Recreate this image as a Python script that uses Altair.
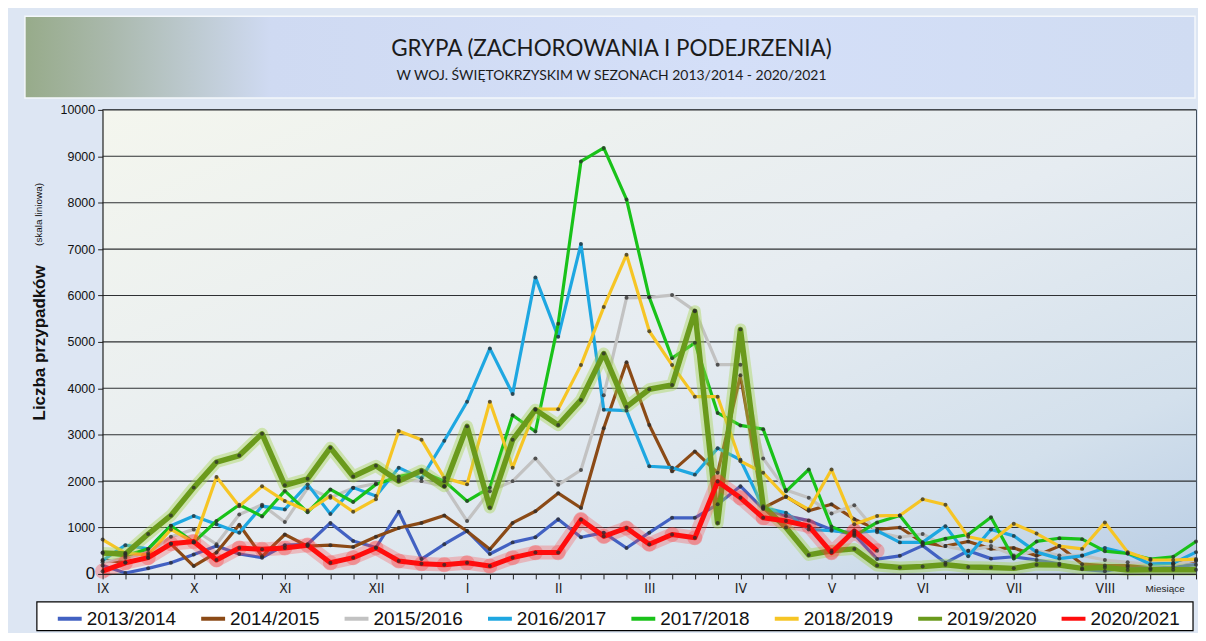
import altair as alt
import pandas as pd

seasons = ["2013/2014", "2014/2015", "2015/2016", "2016/2017",
           "2017/2018", "2018/2019", "2019/2020", "2020/2021"]
colors = ["#4261c2", "#8b4a16", "#c2c2c2", "#1ea7e1",
          "#19c219", "#f6c525", "#6a9a1c", "#ff0d0d"]
months = ["IX", "X", "XI", "XII", "I", "II", "III", "IV", "V", "VI", "VII", "VIII"]
y_ticks = list(range(0, 10001, 1000))

s2013 = [180, 20, 120, 240, 420, 600, 430, 350, 620, 640,
         1100, 710, 570, 1340, 320, 640, 930, 430, 680, 790,
         1180, 790, 890, 560, 890, 1210, 1210, 1500, 1890, 1400,
         1250, 1150, 950, 850, 320, 390, 610, 240, 500, 330,
         370, 300, 220, 100, 60, 150, 120, 150, 200]
s2014 = [300, 250, 350, 650, 170, 460, 1060, 380, 850, 600,
         620, 580, 800, 990, 1100, 1260, 920, 530, 1100, 1350,
         1740, 1420, 3140, 4560, 3210, 2210, 2640, 2180, 4280, 1420,
         1670, 1360, 1500, 1180, 960, 1000, 680, 600, 700, 540,
         560, 390, 600, 210, 180, 180, 200, 230, 280]
s2015 = [250, 350, 450, 800, 960, 640, 1280, 1490, 1120, 1850,
         1640, 1850, 1950, 2030, 2000, 1890, 1140, 1780, 2000, 2490,
         1920, 2240, 3850, 5950, 5960, 6010, 5670, 4510, 4510, 2490,
         1810, 1640, 1300, 1480, 900, 790, 860, 600, 500, 600,
         400, 500, 400, 400, 300, 250, 200, 200, 300]
s2016 = [290, 620, 540, 1040, 1250, 1070, 890, 1460, 1390, 1930,
         1290, 1860, 1680, 2290, 2060, 2870, 3710, 4860, 3880, 6390,
         5110, 7110, 3540, 3520, 2320, 2290, 2140, 2710, 2460, 1430,
         1320, 960, 930, 890, 930, 680, 680, 1030, 380, 960,
         820, 470, 330, 390, 560, 440, 210, 230, 470]
s2017 = [460, 390, 540, 1040, 680, 1140, 1490, 1240, 1790, 1330,
         1820, 1550, 1930, 2100, 2200, 2000, 1570, 1860, 3420, 3070,
         5390, 8890, 9180, 8070, 5960, 4650, 4980, 3470, 3200, 3120,
         1780, 2250, 1020, 820, 1110, 1260, 640, 760, 850, 1220,
         330, 700, 770, 750, 490, 440, 320, 370, 700]
s2018 = [740, 450, 410, 960, 680, 2090, 1460, 1890, 1570, 1360,
         1680, 1340, 1610, 3080, 2890, 2070, 1930, 3710, 2290, 3550,
         3550, 4500, 5750, 6880, 5230, 4500, 3820, 3820, 2430, 2180,
         1660, 1390, 2250, 1070, 1250, 1260, 1610, 1490, 800, 700,
         1080, 870, 600, 540, 1110, 470, 300, 300, 320]
s2019 = [450, 430, 860, 1260, 1860, 2410, 2550, 3020, 1910, 2050,
         2720, 2100, 2330, 2000, 2230, 1890, 3180, 1430, 2890, 3540,
         3210, 3750, 4750, 3600, 3980, 4070, 5660, 1100, 5270, 1460,
         1000, 410, 500, 540, 180, 140, 160, 200, 150, 140,
         120, 200, 190, 120, 140, 85, 90, 90, 90]
s2020 = [60, 240, 350, 650, 700, 300, 560, 530, 560, 620,
         240, 350, 560, 280, 220, 200, 240, 170, 350, 460,
         460, 1170, 810, 990, 640, 850, 780, 1990, 1640, 1210,
         1140, 1030, 460, 930, 500]

series = [s2013, s2014, s2015, s2016, s2017, s2018, s2019, s2020]
rows = []
for season, vals in zip(seasons, series):
    for i, v in enumerate(vals):
        rows.append({"season": season, "week": i, "cases": v})
df = pd.DataFrame(rows)

W, H = 1098, 466
FONT = "Liberation Sans, Arial, sans-serif"
NARROW = "Liberation Sans Narrow, Arial Narrow, DejaVu Sans Condensed, sans-serif"

month_js = "[" + ",".join("'" + m + "'" for m in months) + "]"
xaxis = alt.Axis(values=list(range(49)), tickSize=5, tickColor="#222",
                 domainColor="#222", grid=False, title=None, zindex=1,
                 labelExpr=f"datum.value % 4 === 0 && datum.value < 48 ? {month_js}[datum.value / 4] : ''",
                 labelFont=NARROW, labelFontSize=14, labelColor="#222",
                 labelPadding=3, labelOverlap=False, labelFlush=False)
yaxis = alt.Axis(values=y_ticks, tickSize=5, tickColor="#222", domainColor="#222",
                 grid=False, title=None, zindex=1, labelFont=FONT,
                 labelFontSize={"condition": {"test": "datum.value === 0", "value": 17}, "value": 12.5},
                 labelColor="#111", labelPadding=3, format="d")
xs = alt.Scale(domain=[0, 48], nice=False, zero=False)
ys = alt.Scale(domain=[0, 10000], nice=False)
color = alt.Color("season:N", scale=alt.Scale(domain=seasons, range=colors),
                  legend=alt.Legend(orient="none", legendX=-47, legendY=497,
                                    direction="horizontal", columns=8, title=None,
                                    symbolType="stroke", symbolStrokeWidth=4, symbolSize=576,
                                    labelFont=FONT, labelFontSize=19, labelColor="#111",
                                    columnPadding=17, padding=0, labelLimit=300, labelOffset=3))

one = pd.DataFrame({"a": [0]})

plot_bg = alt.Chart(one).mark_rect(
    fill=alt.Gradient(gradient="linear", x1=0, y1=0, x2=1, y2=1,
                      stops=[alt.GradientStop(color="#f4f6ee", offset=0),
                             alt.GradientStop(color="#e6ecf1", offset=0.5),
                             alt.GradientStop(color="#d3e0ec", offset=0.8),
                             alt.GradientStop(color="#b9cde4", offset=1)])
).encode(x=alt.value(0), x2=alt.value(W), y=alt.value(0), y2=alt.value(H))

banner = alt.Chart(one).mark_rect(
    fill=alt.Gradient(gradient="linear", x1=0, y1=0, x2=1, y2=0,
                      stops=[alt.GradientStop(color="#97ab8a", offset=0),
                             alt.GradientStop(color="#a9b8ab", offset=0.07),
                             alt.GradientStop(color="#cfdaf2", offset=0.21),
                             alt.GradientStop(color="#d4dff8", offset=0.6),
                             alt.GradientStop(color="#d0dcf2", offset=1)]),
    stroke="#f4f7fb", strokeWidth=1.5
).encode(x=alt.value(-78), x2=alt.value(1097), y=alt.value(-94), y2=alt.value(-12))

legend_box = alt.Chart(one).mark_rect(
    fill="white", stroke="black", strokeWidth=1.2
).encode(x=alt.value(-66), x2=alt.value(1095), y=alt.value(494), y2=alt.value(523))

grid = alt.Chart(pd.DataFrame({"cases": y_ticks})).mark_rule(
    color="#2e3033", strokeWidth=1.1
).encode(y=alt.Y("cases:Q", scale=ys))

base = alt.Chart(df).encode(
    x=alt.X("week:Q", scale=xs, axis=xaxis),
    y=alt.Y("cases:Q", scale=ys, axis=yaxis),
)

thin = base.transform_filter(
    alt.FieldOneOfPredicate(field="season", oneOf=seasons[:6])
).mark_line(strokeWidth=3.2, strokeJoin="round").encode(color=color)

olive_glow = base.transform_filter(alt.datum.season == seasons[6]).mark_line(
    color="#a6d44a", strokeWidth=12, opacity=0.4, strokeJoin="round")
olive = base.transform_filter(alt.datum.season == seasons[6]).mark_line(
    strokeWidth=5.5, strokeJoin="round").encode(color=color)

red_glow = base.transform_filter(alt.datum.season == seasons[7]).mark_line(
    color="#ff4040", strokeWidth=14, opacity=0.28, strokeJoin="round")
red_circles = base.transform_filter(alt.datum.season == seasons[7]).mark_circle(
    color="#ff3030", size=230, opacity=0.3)
red = base.transform_filter(alt.datum.season == seasons[7]).mark_line(
    strokeWidth=5, strokeJoin="round").encode(color=color)

dots = base.mark_circle(size=16, color="#2a2a2a", opacity=0.75)

title = alt.Chart(one).mark_text(
    text="GRYPA (ZACHOROWANIA I PODEJRZENIA)", font="Lato, Open Sans, sans-serif",
    fontSize=22.5, color="#1b1b1b", align="center", baseline="middle"
).encode(x=alt.value(511), y=alt.value(-61))
subtitle = alt.Chart(one).mark_text(
    text="W WOJ. ŚWIĘTOKRZYSKIM W SEZONACH 2013/2014 - 2020/2021",
    font="Lato, Open Sans, sans-serif", fontSize=14, color="#1b1b1b",
    align="center", baseline="middle"
).encode(x=alt.value(511), y=alt.value(-34))
ytitle = alt.Chart(one).mark_text(
    text="Liczba przypadków", font=FONT, fontSize=17, fontWeight="bold",
    color="#111", angle=270, align="center", baseline="middle"
).encode(x=alt.value(-63), y=alt.value(234))
ytitle2 = alt.Chart(one).mark_text(
    text="(skala liniowa)", font=FONT, fontSize=10, color="#111",
    angle=270, align="center", baseline="middle"
).encode(x=alt.value(-64), y=alt.value(105))
miesiace = alt.Chart(one).mark_text(
    text="Miesiące", font=FONT, fontSize=10, color="#222",
    align="center", baseline="middle"
).encode(x=alt.value(1067), y=alt.value(481))

chart = alt.layer(
    banner, plot_bg, grid, legend_box, thin, olive_glow, olive, red_glow, red_circles, red, dots,
    title, subtitle, ytitle, ytitle2, miesiace
).properties(
    width=W, height=H,
    autosize=alt.AutoSizeParams(type="none"),
    padding={"left": 95, "top": 101, "right": 2, "bottom": 58},
    background="#dde6f3",
).configure_view(stroke="#34414e", strokeWidth=1.2)

chart.save("out.html", embed_options={"renderer": "svg", "actions": False})
